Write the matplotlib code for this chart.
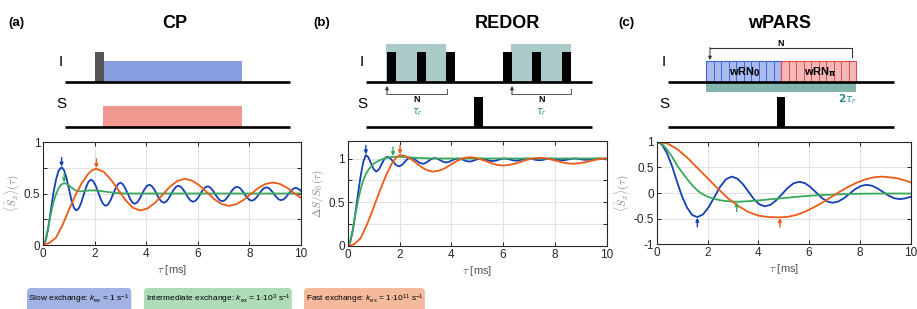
import matplotlib.pyplot as plt
from matplotlib.patches import Rectangle, FancyBboxPatch

plt.rcParams['font.family'] = ['Liberation Sans', 'DejaVu Sans']
plt.rcParams['mathtext.fontset'] = 'custom'
plt.rcParams['mathtext.rm'] = 'Liberation Sans'
plt.rcParams['mathtext.it'] = 'Liberation Sans:italic'
plt.rcParams['mathtext.bf'] = 'Liberation Sans:bold'

BLUE = '#1440b4'
GREEN = '#3aa85a'
ORANGE = '#ec5a17'

# ---- (a) CP ----
a_blue_t = [0, 0.1, 0.2, 0.3, 0.4, 0.5, 0.6, 0.72, 0.815, 0.91, 1.005, 1.10, 1.195, 1.29,
            1.385, 1.48, 1.575, 1.67, 1.765, 1.86, 1.955, 2.05, 2.145, 2.24, 2.335, 2.43,
            2.525, 2.62, 2.715, 2.81, 2.905, 3.0, 3.09, 3.18, 3.28, 3.37, 3.46, 3.55,
            3.645, 3.74, 3.835, 3.93, 4.025, 4.12, 4.21, 4.31, 4.40, 4.49, 4.59, 4.68,
            4.775, 4.87, 4.965, 5.06, 5.155, 5.25, 5.345, 5.44, 5.535, 5.63, 5.725, 5.82,
            5.91, 6.01, 6.10, 6.19, 6.29, 6.38, 6.475, 6.57, 6.665, 6.76, 6.855, 6.95,
            7.045, 7.14, 7.235, 7.33, 7.425, 7.52, 7.615, 7.71, 7.805, 7.90, 7.995, 8.09,
            8.185, 8.28, 8.375, 8.47, 8.565, 8.66, 8.755, 8.85, 8.945, 9.04, 9.135, 9.23,
            9.325, 9.42, 9.515, 9.61, 9.705, 9.8, 9.9, 10.0]
a_blue = [0, 0.04, 0.16, 0.33, 0.50, 0.63, 0.72, 0.755, 0.727, 0.650, 0.545, 0.440, 0.363, 0.335,
          0.355, 0.410, 0.485, 0.560, 0.615, 0.635, 0.618, 0.571, 0.508, 0.444, 0.397, 0.38,
          0.395, 0.436, 0.493, 0.549, 0.590, 0.605, 0.591, 0.554, 0.503, 0.451, 0.414, 0.40,
          0.412, 0.446, 0.493, 0.539, 0.573, 0.585, 0.573, 0.541, 0.498, 0.454, 0.422, 0.41,
          0.421, 0.451, 0.493, 0.534, 0.564, 0.575, 0.565, 0.536, 0.498, 0.459, 0.430, 0.42,
          0.430, 0.458, 0.495, 0.533, 0.560, 0.57, 0.560, 0.534, 0.498, 0.461, 0.435, 0.425,
          0.434, 0.460, 0.495, 0.530, 0.556, 0.565, 0.556, 0.531, 0.498, 0.464, 0.439, 0.43,
          0.439, 0.463, 0.495, 0.528, 0.551, 0.56, 0.552, 0.529, 0.498, 0.466, 0.443, 0.435,
          0.443, 0.465, 0.495, 0.525, 0.547, 0.555, 0.546, 0.524]
a_green_t = [0, 0.1, 0.2, 0.3, 0.4, 0.5, 0.6, 0.7, 0.8, 0.9, 1.0, 1.1, 1.2, 1.3, 1.45, 1.6,
             1.8, 2.0, 2.2, 2.5, 2.8, 3.2, 4.0, 10.0]
a_green = [0, 0.05, 0.17, 0.30, 0.41, 0.49, 0.55, 0.585, 0.60, 0.595, 0.58, 0.56, 0.54, 0.525,
           0.52, 0.525, 0.53, 0.53, 0.525, 0.515, 0.505, 0.50, 0.50, 0.50]
a_orange_t = [0, 0.25, 0.5, 0.75, 1.0, 1.25, 1.5, 1.75, 1.9, 2.05, 2.34, 2.62, 2.91, 3.20, 3.48,
              3.77, 4.06, 4.35, 4.64, 4.92, 5.21, 5.5, 5.78, 6.07, 6.35, 6.63, 6.92, 7.2,
              7.48, 7.77, 8.05, 8.33, 8.62, 8.9, 9.18, 9.47, 9.75, 10.0]
a_orange = [0, 0.02, 0.07, 0.19, 0.34, 0.48, 0.60, 0.69, 0.725, 0.74, 0.713, 0.639, 0.538, 0.436,
            0.362, 0.335, 0.356, 0.412, 0.489, 0.566, 0.622, 0.643, 0.625, 0.577, 0.512, 0.446,
            0.398, 0.38, 0.395, 0.437, 0.494, 0.550, 0.592, 0.607, 0.593, 0.555, 0.50, 0.457]
a_marks_t = [0.72, 0.82, 2.07]
a_marks_v = [0.755, 0.60, 0.74]

# ---- (b) REDOR ----
b_blue_t = [0, 0.1, 0.2, 0.3, 0.4, 0.5, 0.6, 0.7, 0.8, 0.9, 1.0, 1.1, 1.205, 1.31, 1.415, 1.52,
            1.635, 1.75, 1.865, 1.98, 2.09, 2.2, 2.31, 2.42, 2.54, 2.66, 2.78, 2.9, 3.01,
            3.125, 3.24, 3.35, 3.46, 3.575, 3.69, 3.8, 3.91, 4.025, 4.14, 4.25, 4.36, 4.475,
            4.59, 4.7, 4.81, 4.925, 5.04, 5.15, 5.26, 5.375, 5.49, 5.6, 5.71, 5.825, 5.94,
            6.05, 6.16, 6.275, 6.39, 6.5, 6.61, 6.725, 6.84, 6.95, 7.06, 7.175, 7.29, 7.4,
            7.51, 7.625, 7.74, 7.85, 7.96, 8.075, 8.19, 8.3, 8.41, 8.525, 8.64, 8.75, 8.86,
            8.975, 9.09, 9.2, 9.31, 9.425, 9.54, 9.65, 9.76, 9.88, 10.0]
b_blue = [0, 0.05, 0.18, 0.38, 0.60, 0.80, 0.96, 1.04, 1.012, 0.945, 0.878, 0.85, 0.875, 0.935,
          0.995, 1.02, 1.004, 0.965, 0.926, 0.91, 0.925, 0.96, 0.995, 1.01, 1.0, 0.975, 0.950,
          0.94, 0.949, 0.973, 0.996, 1.005, 0.998, 0.98, 0.962, 0.955, 0.962, 0.978, 0.993,
          1.0, 0.995, 0.983, 0.970, 0.965, 0.970, 0.983, 0.995, 1.0, 0.996, 0.985, 0.974,
          0.97, 0.974, 0.985, 0.996, 1.0, 0.996, 0.988, 0.979, 0.975, 0.979, 0.988, 0.996,
          1.0, 0.997, 0.99, 0.983, 0.98, 0.983, 0.99, 0.997, 1.0, 0.997, 0.99, 0.983, 0.98,
          0.983, 0.99, 0.997, 1.0, 0.998, 0.993, 0.987, 0.985, 0.987, 0.993, 0.998, 1.0,
          0.998, 0.993, 0.99]
b_green_t = [0, 0.1, 0.2, 0.3, 0.4, 0.5, 0.6, 0.7, 0.8, 0.9, 1.0, 1.2, 1.4, 1.6, 1.8, 2.0, 2.3,
             2.6, 3.0, 3.5, 10.0]
b_green = [0, 0.06, 0.20, 0.37, 0.52, 0.65, 0.75, 0.82, 0.87, 0.91, 0.94, 0.975, 1.0, 1.013,
           1.02, 1.02, 1.015, 1.008, 1.003, 1.0, 1.0]
b_orange_t = [0, 0.25, 0.5, 0.75, 1.0, 1.25, 1.5, 1.7, 1.85, 2.02, 2.23, 2.45, 2.66, 2.87, 3.09,
              3.3, 3.53, 3.77, 4.0, 4.23, 4.47, 4.7, 4.92, 5.13, 5.35, 5.57, 5.78, 6.0, 6.23,
              6.47, 6.7, 6.93, 7.17, 7.4, 7.62, 7.83, 8.05, 8.27, 8.48, 8.7, 8.92, 9.13, 9.35,
              9.57, 9.78, 10.0]
b_orange = [0, 0.02, 0.09, 0.25, 0.44, 0.64, 0.82, 0.94, 1.005, 1.04, 1.027, 0.993, 0.945, 0.898,
            0.863, 0.85, 0.861, 0.891, 0.933, 0.974, 1.004, 1.015, 1.009, 0.991, 0.968, 0.944,
            0.926, 0.92, 0.926, 0.942, 0.964, 0.986, 1.002, 1.008, 1.003, 0.991, 0.974, 0.957,
            0.945, 0.94, 0.944, 0.955, 0.97, 0.985, 0.996, 1.0]
b_marks_t = [0.7, 1.75, 2.02]
b_marks_v = [1.04, 1.02, 1.04]

# ---- (c) wPARS ----
c_blue_t = [0, 0.2, 0.4, 0.6, 0.8, 1.0, 1.2, 1.4, 1.6, 1.825, 2.05, 2.275, 2.5, 2.725, 2.95,
            3.17, 3.39, 3.605, 3.82, 4.04, 4.26, 4.485, 4.71, 4.935, 5.16, 5.385, 5.61, 5.83,
            6.05, 6.265, 6.48, 6.70, 6.92, 7.14, 7.37, 7.59, 7.81, 8.04, 8.26, 8.48, 8.69,
            8.91, 9.13, 9.34, 9.56, 9.78, 10.0]
c_blue = [1, 0.95, 0.78, 0.53, 0.22, -0.07, -0.29, -0.43, -0.47, -0.417, -0.273, -0.075, 0.123,
          0.267, 0.32, 0.281, 0.175, 0.03, -0.115, -0.221, -0.26, -0.228, -0.14, -0.02, 0.10,
          0.188, 0.22, 0.193, 0.118, 0.015, -0.088, -0.163, -0.19, -0.167, -0.103, -0.015,
          0.073, 0.137, 0.16, 0.141, 0.09, 0.02, -0.05, -0.101, -0.12, -0.105, -0.075]
c_green_t = [0, 0.2, 0.4, 0.6, 0.8, 1.0, 1.2, 1.4, 1.6, 1.8, 2.0, 2.3, 2.6, 2.9, 3.2, 3.6, 4.0,
             4.5, 5.0, 5.5, 6.0, 6.5, 7.0, 7.5, 8.0, 9.0, 10.0]
c_green = [1, 0.96, 0.85, 0.71, 0.54, 0.40, 0.27, 0.15, 0.05, -0.02, -0.07, -0.12, -0.15, -0.165,
           -0.17, -0.16, -0.145, -0.12, -0.10, -0.075, -0.055, -0.04, -0.03, -0.02, -0.015,
           -0.01, -0.01]
c_orange_t = [0, 0.4, 0.8, 1.2, 1.6, 2.0, 2.4, 2.8, 3.2, 3.6, 4.0, 4.4, 4.85, 5.19, 5.53, 5.86,
              6.2, 6.54, 6.875, 7.21, 7.55, 7.89, 8.225, 8.56, 8.9, 9.45, 10.0]
c_orange = [1, 0.97, 0.86, 0.69, 0.49, 0.29, 0.09, -0.10, -0.25, -0.37, -0.44, -0.47, -0.475,
            -0.462, -0.422, -0.359, -0.276, -0.181, -0.078, 0.026, 0.121, 0.204, 0.267, 0.307,
            0.32, 0.29, 0.21]
c_marks_t = [1.6, 3.15, 4.85]
c_marks_v = [-0.47, -0.17, -0.475]

legend_labels = [r'Slow exchange: $\mathit{k}_\mathrm{ex}$ = 1 s$^\mathrm{-1}$',
                 r'Intermediate exchange: $\mathit{k}_\mathrm{ex}$ = 1$\cdot$10$^\mathrm{3}$ s$^\mathrm{-1}$',
                 r'Fast exchange: $\mathit{k}_\mathrm{ex}$ = 1$\cdot$10$^\mathrm{11}$ s$^\mathrm{-1}$']
legend_colors = ['#a2b2e2', '#aedcb9', '#f5b99c']
legend_x = [27, 144, 304]

fig = plt.figure(figsize=(9.17, 3.09), dpi=100)

# sketch layer in pixel coordinates (pulse sequences, legend boxes)
sk = fig.add_axes([0, 0, 1, 1])
sk.set_xlim(0, 917)
sk.set_ylim(309, 0)
sk.axis('off')


def rect(x0, y0, x1, y1, **kw):
    sk.add_patch(Rectangle((x0, y0), x1 - x0, y1 - y0, **kw))


def base(x0, x1, y):
    sk.plot([x0, x1], [y, y], color='k', lw=1.9, solid_capstyle='butt', zorder=5)


def up_arrow(x, y0, y1, col='#333333'):
    sk.annotate('', xy=(x, y1), xytext=(x, y0),
                arrowprops=dict(arrowstyle='-|>', color=col, lw=0.7, mutation_scale=5,
                                shrinkA=0, shrinkB=0))


def headers(x_lab, lab, x_tit, tit, x_is):
    sk.text(x_lab, 23, lab, fontsize=9.5, fontweight='bold', va='center')
    sk.text(x_tit, 23, tit, fontsize=13, fontweight='bold', va='center', ha='center')
    sk.text(x_is, 62, 'I', fontsize=11, va='center', ha='center')
    sk.text(x_is, 104, 'S', fontsize=11, va='center', ha='center')


# (a) CP
headers(8, '(a)', 175, 'CP', 61)
rect(95, 52, 104, 82, fc='#555555', ec='none')
rect(104, 61, 242, 82, fc='#879fe0', ec='none')
rect(103, 106, 242, 127, fc='#ee9890', ec='none')
base(65, 290, 82)
base(65, 290, 127)

# (b) REDOR
headers(313, '(b)', 507, 'REDOR', 362)
for x0, x1 in [(386, 446), (511, 571)]:
    rect(x0, 44, x1, 82, fc='#aacbc8', ec='none')
for x0 in [387, 417, 446, 503, 532, 562]:
    rect(x0, 52, x0 + 9, 82, fc='k', ec='none', zorder=3)
rect(474, 97, 483, 127, fc='k', ec='none', zorder=3)
base(366, 592, 82)
base(366, 592, 127)
for x0, x1 in [(387, 447), (512, 571)]:
    sk.plot([x0, x1, x1], [94, 94, 89], color='#555555', lw=0.7)
    up_arrow(x0, 94.5, 86)
    xm = (x0 + x1) / 2
    sk.text(xm, 100, 'N', fontsize=6.5, fontweight='bold', ha='center', va='center')
    sk.text(xm, 112, r'$\boldsymbol{\tau_r}$', fontsize=7, ha='center', va='center',
            color='#2a8a8a', math_fontfamily='dejavusans')

# (c) wPARS
headers(618, '(c)', 780, 'wPARS', 664)
rect(706, 83, 856, 92, fc='#84b4ae', ec='none')
for x0, fc, ec in [(706, '#a8baee', '#3a66d8'), (781, '#f5b8b8', '#e24a4a')]:
    rect(x0, 61, x0 + 75, 82, fc=fc, ec=ec, lw=0.8)
    for k in range(1, 10):
        sk.plot([x0 + 7.5 * k] * 2, [61, 82], color=ec, lw=0.7)
sk.text(745, 72, r'wRN$_\mathbf{0}$', fontsize=8, fontweight='bold', ha='center',
        va='center', math_fontfamily='dejavusans')
sk.text(820, 72, r'wRN$_\mathbf{\pi}$', fontsize=8, fontweight='bold', ha='center',
        va='center', math_fontfamily='dejavusans')
base(668, 894, 82)
base(668, 894, 127)
rect(777, 97, 785, 127, fc='k', ec='none', zorder=3)
sk.plot([710, 852, 852], [48, 48, 57], color='#333333', lw=0.8)
up_arrow(710, 47.5, 60)
sk.text(781, 44, 'N', fontsize=6.5, fontweight='bold', ha='center', va='center')
sk.text(847, 99, r'$\mathbf{2}\boldsymbol{\tau_r}$', fontsize=7.5, ha='center', va='center',
        color='#2a8a8a', math_fontfamily='dejavusans')

# legend boxes: fit each rounded box to its text
renderer = fig.canvas.get_renderer()
inv = sk.transData.inverted()
for x0, lab, col in zip(legend_x, legend_labels, legend_colors):
    t = sk.text(x0 + 1.5, 299.5, lab, fontsize=6.0, va='center', ha='left', zorder=3)
    bb = t.get_window_extent(renderer)
    px1 = inv.transform((bb.x1, bb.y1))[0]
    sk.add_patch(FancyBboxPatch((x0, 288), px1 - x0 + 1.5, 26,
                                boxstyle='round,pad=0,rounding_size=4', fc=col, ec='none'))


# ---- plots ----
def style(ax, ylim, yticks, ylabels, ylab):
    ax.set_xlim(0, 10)
    ax.set_ylim(*ylim)
    ax.set_xticks(range(0, 11, 2))
    ax.set_yticks(yticks)
    ax.set_yticklabels(ylabels)
    ax.grid(True, color='#e2e2e2', lw=0.8)
    ax.set_axisbelow(True)
    ax.tick_params(direction='in', top=True, right=True, length=3, width=0.7,
                   labelsize=8.5, colors='#262626', pad=2)
    for s in ax.spines.values():
        s.set_color('#262626')
        s.set_linewidth(0.8)
    ax.set_xlabel(r'$\tau$ [ms]', fontsize=8, color='#555555', labelpad=2,
                  math_fontfamily='cm')
    ax.set_ylabel(ylab, fontsize=8, color='#888888', labelpad=2, math_fontfamily='cm')


def marks(ax, ts, vs, down):
    off = 7 if down else -7
    for t, v, c in zip(ts, vs, [BLUE, GREEN, ORANGE]):
        ax.annotate('', xy=(t, v), xytext=(0, off), textcoords='offset points',
                    xycoords='data',
                    arrowprops=dict(arrowstyle='-|>', color=c, lw=1.0, mutation_scale=5,
                                    shrinkA=0, shrinkB=0.5))


ax_a = fig.add_axes([43 / 917, 1 - 245 / 309, 258 / 917, 103 / 309])
ax_a.plot(a_blue_t, a_blue, color=BLUE, lw=1.3)
ax_a.plot(a_green_t, a_green, color=GREEN, lw=1.3)
ax_a.plot(a_orange_t, a_orange, color=ORANGE, lw=1.3)
marks(ax_a, a_marks_t, a_marks_v, True)
style(ax_a, (0, 1), [0, 0.25, 0.5, 0.75, 1], ['0', '', '0.5', '', '1'],
      r'$\langle\hat{S}_x\rangle(\tau)$')

ax_b = fig.add_axes([347.7 / 917, 1 - 246 / 309, 259 / 917, 105 / 309])
ax_b.plot(b_blue_t, b_blue, color=BLUE, lw=1.3)
ax_b.plot(b_green_t, b_green, color=GREEN, lw=1.3)
ax_b.plot(b_orange_t, b_orange, color=ORANGE, lw=1.3)
marks(ax_b, b_marks_t, b_marks_v, True)
style(ax_b, (0, 1.2), [0, 0.25, 0.5, 0.75, 1], ['0', '', '0.5', '', '1'],
      r'$\Delta S/S_0\,(\tau)$')

ax_c = fig.add_axes([656.7 / 917, 1 - 244.3 / 309, 254 / 917, 102.6 / 309])
ax_c.plot(c_blue_t, c_blue, color=BLUE, lw=1.3)
ax_c.plot(c_green_t, c_green, color=GREEN, lw=1.3)
ax_c.plot(c_orange_t, c_orange, color=ORANGE, lw=1.3)
marks(ax_c, c_marks_t, c_marks_v, False)
style(ax_c, (-1, 1), [-1, -0.5, 0, 0.5, 1], ['-1', '-0.5', '0', '0.5', '1'],
      r'$\langle\hat{S}_x\rangle(\tau)$')

fig.savefig('out.png', dpi=100)
